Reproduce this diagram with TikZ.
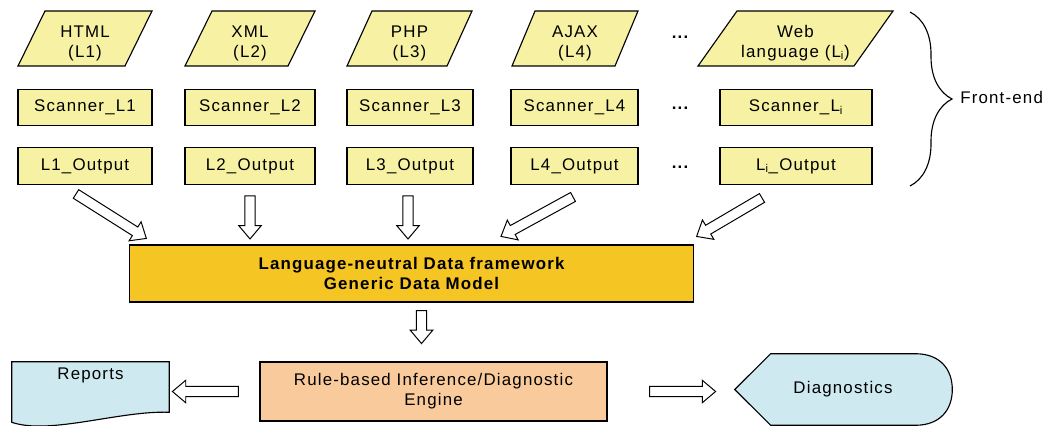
\documentclass[tikz,border=0pt]{standalone}
\usepackage{fontspec}
\setmainfont{Liberation Sans}[LetterSpace=7]
\usetikzlibrary{calc, backgrounds, decorations.pathreplacing}

\definecolor{langyellow}{RGB}{246,241,163}
\definecolor{coregold}{RGB}{245,197,36}
\definecolor{enginepeach}{RGB}{249,203,156}
\definecolor{outblue}{RGB}{206,234,240}

\begin{document}
\begin{tikzpicture}[x=0.025cm, y=-0.025cm,
  font=\fontsize{12}{14.2}\selectfont,
  langbox/.style={draw=black, fill=langyellow, line width=0.8pt},
  langtext/.style={align=center, inner sep=0pt},
  scanbox/.style={rectangle, draw=black, fill=langyellow, line width=0.8pt,
                  minimum height=0.92cm, inner sep=0pt},
  corebox/.style={rectangle, draw=black, fill=coregold, line width=0.8pt,
                  minimum width=14.075cm, minimum height=1.425cm, align=center,
                  font=\fontsize{12}{14.2}\selectfont\bfseries},
  enginebox/.style={rectangle, draw=black, fill=enginepeach, line width=0.8pt,
                    minimum width=8.675cm, minimum height=1.475cm, align=center},
  outshape/.style={draw=black, fill=outblue, line width=0.8pt},
  blockarr/.style={draw=black, fill=white, line width=0.7pt,
    to path={
      ($(\tikztostart)!3.6pt!90:(\tikztotarget)$)
      -- ($($(\tikztotarget)!9.5pt!(\tikztostart)$)!3.6pt!90:(\tikztotarget)$)
      -- ($($(\tikztotarget)!9.5pt!(\tikztostart)$)!8pt!90:(\tikztotarget)$)
      -- (\tikztotarget)
      -- ($($(\tikztotarget)!9.5pt!(\tikztostart)$)!8pt!-90:(\tikztotarget)$)
      -- ($($(\tikztotarget)!9.5pt!(\tikztostart)$)!3.6pt!-90:(\tikztotarget)$)
      -- ($(\tikztostart)!3.6pt!-90:(\tikztotarget)$)
      -- cycle}},
]
\useasboundingbox (0,0) rectangle (1045,426);

%% WEB LANGUAGES
\foreach \n/\bl/\w/\s/\txt in {lang1/18/107/27/{HTML\\(L1)}, lang2/185/103/27/{XML\\(L2)},
    lang3/347/100/25/{PHP\\(L3)}, lang4/512/103/23/{AJAX\\(L4)},
    langi/698/156/39/{Web\\language (L\textsubscript{i})}}{
  \draw[langbox] (\bl,66) -- ++(\w,0) -- ++(\s,-55) -- ++(-\w,0) -- cycle;
  \node[langtext] (\n) at (\bl+\w/2+\s/2,43) {\txt};
}

%% SCANNERS AND OUTPUTS
\foreach \n/\x/\w/\l in {1/85/3.35/L1, 2/250/3.25/L2, 3/410/3.15/L3,
    4/574.5/3.175/L4, i/796/3.8/{L\textsubscript{i}}}{
  \node[scanbox, minimum width=\w cm] (scan\n) at (\x,107.5) {Scanner\_\l};
  \node[scanbox, minimum width=\w cm] (out\n)  at (\x,166)   {\l\_Output};
}
\foreach \y [count=\k] in {37,108,167}
  \node[font=\fontsize{12}{14.2}\selectfont\bfseries] (dots\k) at (680,\y) {...};

%% FRONT-END BRACE
\draw[line width=0.8pt, decorate, decoration={brace, amplitude=1.05cm, aspect=0.5}]
  (910,12) -- (910,186);
\node[anchor=west, inner sep=0pt] (frontend) at (960,97) {Front-end};

%% DATA MODEL AND ENGINE
\node[corebox] (core) at (411.5,273.5) {Language-neutral Data framework\\Generic Data Model};
\node[enginebox] (engine) at (433.5,391.5) {Rule-based Inference/Diagnostic\\Engine};

%% OUTPUTS
\node[inner sep=0pt, minimum width=3.925cm, minimum height=1.25cm,
      label={[anchor=north, inner sep=0pt, yshift=-4pt]north:Reports}] (reports) at (90.5,387) {};
\node[inner sep=0pt, minimum width=3.6cm, minimum height=1.775cm] (diag) at (843,389.5) {Diagnostics};

\begin{pgfonlayer}{background}
  \draw[outshape] (reports.north west) -- (reports.north east) -- (reports.south east)
    .. controls +(-49,-2) and +(38,13) .. ($(reports.south west)+(0,10)$) -- cycle;
  \draw[outshape] (diag.north west) -- (diag.north east)
    .. controls +(25,0) and +(0,-20) .. ($(diag.east)+(37,0)$)
    .. controls +(0,20) and +(25,0) .. (diag.south east)
    -- (diag.south west) -- ($(diag.west)+(-36,0)$) -- cycle;
\end{pgfonlayer}

%% ARROWS
\draw[blockarr] ([shift={(-9,9)}]out1.south) to ([shift={(17,-6)}]core.north west);
\draw[blockarr] ([shift={(0,11)}]out2.south) to ([shift={(0,54)}]out2.south);
\draw[blockarr] ([shift={(-2,11)}]out3.south) to ([shift={(-2,54)}]out3.south);
\draw[blockarr] ([shift={(-1.5,12)}]out4.south) to ([shift={(89.5,-8)}]core.north);
\draw[blockarr] ([shift={(-34,13)}]outi.south) to ([shift={(3,-8)}]core.north east);
\draw[blockarr] ([shift={(10,8)}]core.south) to ([shift={(10,41)}]core.south);
\draw[blockarr] ([shift={(-21,0)}]engine.west) to ([shift={(-87,0)}]engine.west);
\draw[blockarr] ([shift={(42,0)}]engine.east) to ([shift={(108,0)}]engine.east);
\end{tikzpicture}
\end{document}
